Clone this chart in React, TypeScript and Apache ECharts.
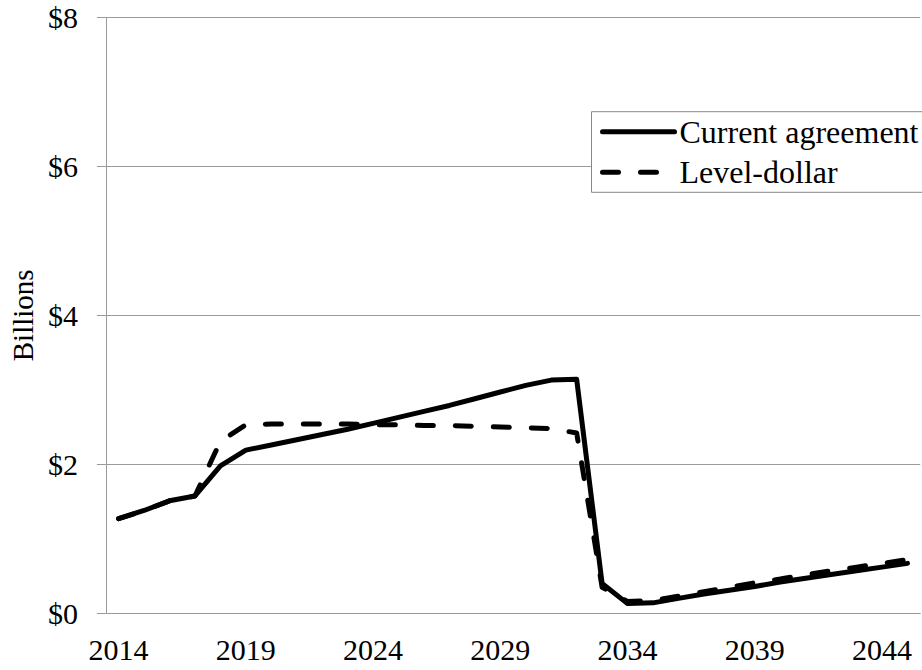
import React, { useEffect, useRef } from "react";
import * as echarts from "echarts";

const years: string[] = [];
for (let y = 2014; y <= 2045; y++) years.push(String(y));

const currentAgreement = [
  1.27, 1.38, 1.51, 1.575, 1.98, 2.19, 2.26, 2.33, 2.4, 2.47, 2.55, 2.63, 2.71,
  2.79, 2.88, 2.97, 3.06, 3.13, 3.14, 0.4, 0.13, 0.14, 0.2, 0.26, 0.31, 0.36,
  0.42, 0.47, 0.52, 0.57, 0.62, 0.67,
];

const levelDollar = [
  1.27, 1.38, 1.51, 1.575, 2.31, 2.53, 2.54, 2.54, 2.54, 2.54, 2.53, 2.53, 2.52,
  2.52, 2.51, 2.5, 2.49, 2.48, 2.42, 0.35, 0.16, 0.17, 0.23, 0.29, 0.35, 0.41,
  0.46, 0.52, 0.57, 0.62, 0.67, 0.72,
];

const yTicks = [0, 2, 4, 6, 8];
const seriesNames = ["Current agreement", "Level-dollar"];

const FONT = "Liberation Serif, serif";
const GRAY = "#9a9a9a";

export default function App() {
  const ref = useRef<HTMLDivElement>(null);
  useEffect(() => {
    document.body.style.margin = "0";
    if (!ref.current) return;
    const chart = echarts.init(ref.current, undefined, { renderer: "svg" });
    chart.setOption({
      animation: false,
      backgroundColor: "#fff",
      textStyle: { fontFamily: FONT, color: "#000" },
      grid: { left: 101, right: 1.8, top: 17.3, bottom: 56.7, containLabel: false },
      legend: {
        data: seriesNames,
        orient: "vertical",
        left: 591.5,
        top: 111.7,
        padding: [4, 12, 4, 8.5],
        itemWidth: 72,
        itemHeight: 30,
        itemGap: 8.6,
        backgroundColor: "#fff",
        borderColor: "#888",
        borderWidth: 1,
        borderRadius: 0,
        lineStyle: { width: 5 },
        itemStyle: { opacity: 0, borderWidth: 0 },
        textStyle: { fontFamily: FONT, fontSize: 32, color: "#000", lineHeight: 30 },
      },
      xAxis: {
        type: "category",
        data: years,
        boundaryGap: true,
        axisLine: { lineStyle: { color: GRAY, width: 1 } },
        axisTick: { interval: 4, length: 9, lineStyle: { color: GRAY } },
        axisLabel: { interval: 4, fontFamily: FONT, fontSize: 30, color: "#000", margin: 21 },
        splitLine: { show: false },
      },
      yAxis: {
        type: "value",
        min: yTicks[0],
        max: yTicks[yTicks.length - 1],
        interval: 2,
        name: "Billions",
        nameLocation: "middle",
        nameGap: 64,
        nameRotate: 90,
        nameTextStyle: { fontFamily: FONT, fontSize: 29, color: "#000" },
        axisLine: { show: true, lineStyle: { color: GRAY, width: 1 } },
        axisTick: { show: true, length: 9, lineStyle: { color: GRAY } },
        axisLabel: {
          fontFamily: FONT,
          fontSize: 30,
          color: "#000",
          margin: 28,
          formatter: (v: number) => "$" + v,
        },
        splitLine: { show: true, lineStyle: { color: GRAY, width: 1 } },
      },
      series: [
        {
          name: seriesNames[0],
          type: "line",
          data: currentAgreement,
          symbol: "none",
          z: 3,
          lineStyle: { color: "#000", width: 5, cap: "round", join: "round" },
          itemStyle: { color: "#000" },
        },
        {
          name: seriesNames[1],
          type: "line",
          data: levelDollar,
          symbol: "none",
          z: 4,
          lineStyle: { color: "#000", width: 5, type: [16, 22], cap: "round", join: "round" },
          itemStyle: { color: "#000" },
        },
      ],
    });
    return () => chart.dispose();
  }, []);
  return <div ref={ref} style={{ width: 922, height: 670 }} />;
}
